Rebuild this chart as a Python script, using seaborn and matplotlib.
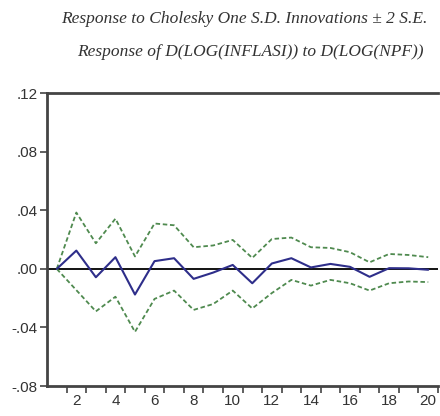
import numpy as np
import pandas as pd
import matplotlib
matplotlib.use("Agg")
import matplotlib.pyplot as plt
import seaborn as sns

sns.set_style("white")
plt.rcParams['font.family'] = ['Liberation Sans Narrow', 'Liberation Sans', 'DejaVu Sans']

# Impulse response of D(LOG(INFLASI)) to D(LOG(NPF)), periods 1..20
periods = list(range(1, 21))
response = [0.000, 0.0125, -0.0057, 0.008, -0.0175, 0.0053, 0.0073, -0.0068, -0.0025, 0.0027,
            -0.0098, 0.0037, 0.0073, 0.001, 0.0034, 0.0014, -0.0054, 0.0005, 0.0004, -0.0006]
upper = [0.000, 0.0385, 0.0175, 0.0343, 0.0085, 0.031, 0.0298, 0.0148, 0.016, 0.0198,
         0.0075, 0.0204, 0.0214, 0.0148, 0.0143, 0.0114, 0.0045, 0.0102, 0.0095, 0.008]
lower = [0.000, -0.0145, -0.029, -0.019, -0.043, -0.0205, -0.0148, -0.028, -0.024, -0.0148,
         -0.027, -0.0165, -0.0075, -0.0114, -0.0075, -0.0098, -0.0148, -0.0098, -0.0086, -0.009]

df = pd.DataFrame({"period": periods, "response": response, "upper": upper, "lower": lower})

fig = plt.figure(figsize=(4.40, 4.16), dpi=100)
ax = fig.add_axes([47 / 440, 0.072, 391 / 440, 0.704])

ax.axhline(0, color="black", lw=1.3, zorder=1)
sns.lineplot(data=df, x="period", y="upper", ax=ax, color="#4f8a4f", lw=1.3,
             linestyle=(0, (2.5, 1.5)))
sns.lineplot(data=df, x="period", y="lower", ax=ax, color="#4f8a4f", lw=1.3,
             linestyle=(0, (2.5, 1.5)))
sns.lineplot(data=df, x="period", y="response", ax=ax, color="#2e2e8a", lw=1.5)

ax.set_xlim(0.5, 20.5)
ax.set_ylim(-0.08, 0.12)
ax.set_yticks([-0.08, -0.04, 0.0, 0.04, 0.08, 0.12])
ax.set_yticklabels(["-.08", "-.04", ".00", ".04", ".08", ".12"])
# ticks between periods, labels on even periods
ax.set_xticks(np.arange(1.5, 21, 1.0))
ax.set_xticklabels([])
ax.set_xticks(range(2, 21, 2), minor=True)
ax.set_xticklabels([str(p) for p in range(2, 21, 2)], minor=True)
ax.tick_params(axis="x", which="major", direction="out", length=5, width=1.2, color="#444444", bottom=True)
ax.tick_params(axis="x", which="minor", length=0, labelsize=11, labelcolor="#333333", pad=6, bottom=True)
ax.tick_params(axis="y", direction="out", length=5, width=1.2, color="#444444", labelsize=11,
               labelcolor="#333333", left=True, pad=2)
ax.set_xlabel("")
ax.set_ylabel("")

for s in ["left", "bottom", "top"]:
    ax.spines[s].set_visible(True)
    ax.spines[s].set_color("#444444")
    ax.spines[s].set_linewidth(2)
ax.spines["right"].set_visible(False)

fig.text(0.555, 0.955, "Response to Cholesky One S.D. Innovations \u00b1 2 S.E.",
         ha="center", va="center", family="Liberation Serif", style="italic",
         fontsize=12.5, color="#333333")
fig.text(0.57, 0.875, "Response of D(LOG(INFLASI)) to D(LOG(NPF))",
         ha="center", va="center", family="Liberation Serif", style="italic",
         fontsize=12.5, color="#333333")

fig.savefig("out.png", dpi=100)
